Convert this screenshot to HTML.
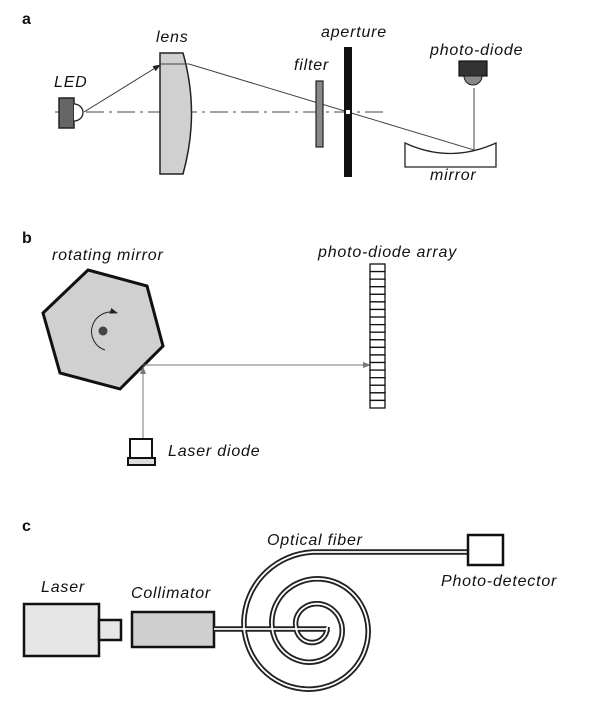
<!DOCTYPE html>
<html><head><meta charset="utf-8"><style>
html,body{margin:0;padding:0;background:#fff;}
svg{display:block;}
text{font-family:"Liberation Sans",sans-serif;}
.lbl{font-style:italic;font-size:16px;letter-spacing:0.8px;fill:#111;}
.pl{font-weight:bold;font-size:16px;fill:#111;}
</style></head><body>
<svg id="fig" width="593" height="715" viewBox="0 0 593 715">
<defs>
<marker id="ah" markerWidth="8" markerHeight="6" refX="7" refY="3" orient="auto"><path d="M0,0 L8,3 L0,6 Z" fill="#222"/></marker>
<marker id="ah2" markerWidth="8" markerHeight="6" refX="7" refY="3" orient="auto"><path d="M0,0 L8,3 L0,6 Z" fill="#777"/></marker>
</defs>
<g>
<text class="pl" x="22" y="24">a</text>
<line x1="55" y1="112" x2="388" y2="112" stroke="#444" stroke-width="1" stroke-dasharray="18,5,3,5"/>
<rect x="59" y="98" width="15" height="30" fill="#666" stroke="#222" stroke-width="1.5"/>
<path d="M74,104 A9,8.5 0 0 1 74,121" fill="#fff" stroke="#222" stroke-width="1.3"/>
<path d="M160,53 L183,53 Q200,113 183,174 L160,174 Z" fill="#d0d0d0" stroke="#222" stroke-width="1.5"/>
<line x1="84" y1="112" x2="160" y2="65" stroke="#333" stroke-width="1" marker-end="url(#ah)"/>
<polyline points="160,64 189,64 348,112 474,150 474,88" fill="none" stroke="#444" stroke-width="1"/>
<rect x="316" y="81" width="7" height="66" fill="#888" stroke="#222" stroke-width="1.2"/>
<rect x="344" y="47" width="8" height="130" fill="#111"/>
<rect x="346" y="110" width="4" height="4" fill="#fff"/>
<rect x="459" y="61" width="28" height="15" fill="#333" stroke="#111" stroke-width="1.2"/>
<path d="M464,76 A9,9 0 0 0 482,76 Z" fill="#888" stroke="#222" stroke-width="1"/>
<path d="M405,143 Q450,164 496,143 L496,167 L405,167 Z" fill="#fff" stroke="#222" stroke-width="1.3"/>
<text class="lbl" x="54" y="87">LED</text>
<text class="lbl" x="156" y="42">lens</text>
<text class="lbl" x="294" y="70">filter</text>
<text class="lbl" x="321" y="37">aperture</text>
<text class="lbl" x="430" y="55">photo-diode</text>
<text class="lbl" x="430" y="180">mirror</text>
</g>
<g>
<text class="pl" x="22" y="243">b</text>
<text class="lbl" x="52" y="260">rotating mirror</text>
<polygon points="88,270 147,286 163,346 120,389 60,373 43,313" fill="#d0d0d0" stroke="#111" stroke-width="3"/>
<circle cx="103" cy="331" r="4.5" fill="#444"/>
<path d="M105,350 A19,19 0 1 1 117,313" fill="none" stroke="#222" stroke-width="1" marker-end="url(#ah)"/>
<line x1="143" y1="438" x2="143" y2="367" stroke="#777" stroke-width="1" marker-end="url(#ah2)"/>
<line x1="143" y1="365" x2="370" y2="365" stroke="#777" stroke-width="1" marker-end="url(#ah2)"/>
<g id="pda"></g>
<rect x="130" y="439" width="22" height="19" fill="#fff" stroke="#111" stroke-width="2"/>
<rect x="128" y="458" width="27" height="7" fill="#ddd" stroke="#111" stroke-width="2"/>
<text class="lbl" x="168" y="456">Laser diode</text>
<text class="lbl" x="318" y="257">photo-diode array</text>
</g>
<g>
<text class="pl" x="22" y="531">c</text>
<text class="lbl" x="267" y="545">Optical fiber</text>
<rect x="24" y="604" width="75" height="52" fill="#e6e6e6" stroke="#111" stroke-width="2.5"/>
<rect x="99" y="620" width="22" height="20" fill="#e6e6e6" stroke="#111" stroke-width="2.5"/>
<text class="lbl" x="41" y="592">Laser</text>
<rect x="132" y="612" width="82" height="35" fill="#cfcfcf" stroke="#111" stroke-width="2.5"/>
<text class="lbl" x="131" y="598">Collimator</text>
<path id="fo" fill="none" stroke="#222" stroke-width="5.5"/>
<path id="fi" fill="none" stroke="#fff" stroke-width="1.8"/>
<rect x="468" y="535" width="35" height="30" fill="#fff" stroke="#111" stroke-width="2.5"/>
<text class="lbl" x="441" y="586">Photo-detector</text>
</g>
</svg>
<script>
var ns="http://www.w3.org/2000/svg";
var pda=document.getElementById('pda');
var cells=19, y0=264, y1=408;
var h=(y1-y0)/cells;
for(var i=0;i<cells;i++){
  var r=document.createElementNS(ns,'rect');
  r.setAttribute('x',370);r.setAttribute('y',y0+i*h);
  r.setAttribute('width',15);r.setAttribute('height',h);
  r.setAttribute('fill','#fff');r.setAttribute('stroke','#111');r.setAttribute('stroke-width','1.3');
  
  
  pda.appendChild(r);
}
var d="M214,629 L327,629";
var cx=313,cy=627;
for(var t=0;t<=990;t+=5){
  var rr;
  if(t<=180) rr=14+t/180*3;
  else if(t<=540) rr=17+(t-180)/360*24;
  else if(t<=900) rr=41+(t-540)/360*28;
  else rr=69+(t-900)/90*6;
  var a=t*Math.PI/180;
  d+=" L"+(cx+rr*Math.cos(a)).toFixed(1)+","+(cy+rr*Math.sin(a)).toFixed(1);
}
d+=" L468,552";
document.getElementById('fo').setAttribute('d',d);
document.getElementById('fi').setAttribute('d',d);
</script>
</body></html>
